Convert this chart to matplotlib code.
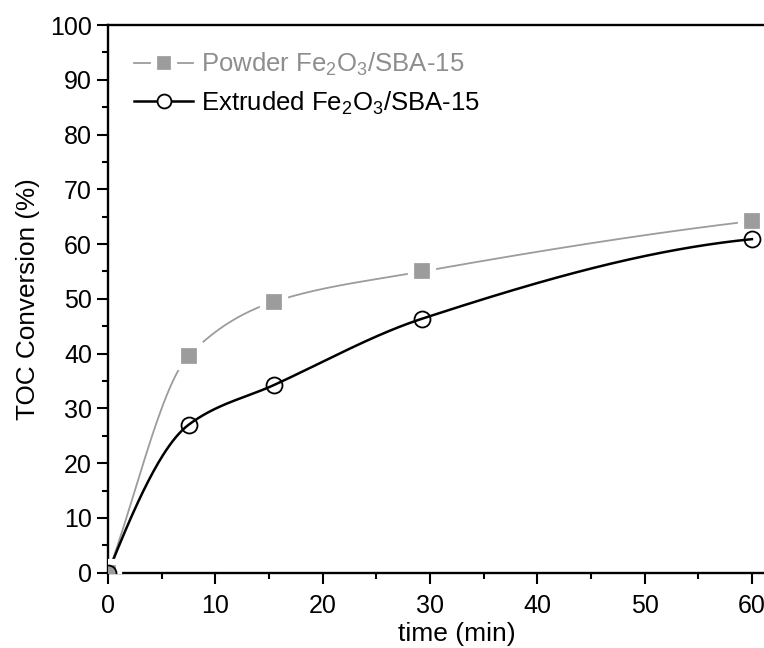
import matplotlib.pyplot as plt
import numpy as np

plt.rcParams['font.family'] = ['Liberation Sans', 'DejaVu Sans']
plt.rcParams['mathtext.default'] = 'regular'

# TOC conversion vs reaction time
time_min = [0, 7.5, 15.5, 29.3, 60]
powder = [0, 39.6, 49.5, 55.0, 64.2]
extruded = [0, 27.0, 34.3, 46.4, 60.9]

powder_label = 'Powder Fe$_2$O$_3$/SBA-15'
extruded_label = 'Extruded Fe$_2$O$_3$/SBA-15'


def smooth_curve(x, y, chord_start=False, n=400):
    """Monotone cubic (PCHIP) curve through the points, used for the connecting line."""
    x = np.asarray(x, float)
    y = np.asarray(y, float)
    h = np.diff(x)
    d = np.diff(y) / h
    m = np.zeros_like(y)
    for k in range(1, len(x) - 1):
        if d[k - 1] * d[k] > 0:
            w1 = 2 * h[k] + h[k - 1]
            w2 = h[k] + 2 * h[k - 1]
            m[k] = (w1 + w2) / (w1 / d[k - 1] + w2 / d[k])
    if chord_start:
        m[0] = d[0]
    else:
        m[0] = ((2 * h[0] + h[1]) * d[0] - h[0] * d[1]) / (h[0] + h[1])
        m[0] = min(m[0], 3 * d[0])
    m[-1] = ((2 * h[-1] + h[-2]) * d[-1] - h[-1] * d[-2]) / (h[-1] + h[-2])
    if np.sign(m[-1]) != np.sign(d[-1]):
        m[-1] = 0
    xs = np.linspace(x[0], x[-1], n)
    idx = np.clip(np.searchsorted(x, xs) - 1, 0, len(x) - 2)
    t = (xs - x[idx]) / h[idx]
    h00 = 2 * t**3 - 3 * t**2 + 1
    h10 = t**3 - 2 * t**2 + t
    h01 = -2 * t**3 + 3 * t**2
    h11 = t**3 - t**2
    ys = h00 * y[idx] + h10 * h[idx] * m[idx] + h01 * y[idx + 1] + h11 * h[idx] * m[idx + 1]
    return xs, ys


fig = plt.figure(figsize=(7.64, 6.48), dpi=100)
ax = fig.add_axes([0.1414, 0.1162, 0.913, 0.8452])

gray = '#9c9c9c'
xs, ys = smooth_curve(time_min, powder, chord_start=True)
ax.plot(xs, ys, color=gray, lw=1.3, zorder=2)
ax.plot(time_min, powder, ls='none', marker='s', ms=15.5, mfc=gray,
        mec='white', mew=4.5, zorder=3)

xs, ys = smooth_curve(time_min, extruded)
ax.plot(xs, ys, color='black', lw=1.8, zorder=2)
ax.plot(time_min, extruded, ls='none', marker='o', ms=11.5, mfc='none',
        mec='black', mew=1.3, zorder=4)

# legend handles mimic the line-marker-line style
h1, = ax.plot([], [], color=gray, lw=1.3, marker='s', ms=15, mfc=gray,
              mec='white', mew=4.5)
h2, = ax.plot([], [], color='black', lw=1.8, marker='o', ms=10, mfc='white',
              mec='black', mew=1.3)
leg = ax.legend([h1, h2], [powder_label, extruded_label], loc='upper left',
                bbox_to_anchor=(0.023, 0.972), frameon=False, fontsize=18.5,
                handlelength=2.3, handletextpad=0.3, labelspacing=0.45,
                borderaxespad=0)
leg.get_texts()[0].set_color('#8e8e8e')

ax.set_xlim(0, 65)
ax.set_ylim(0, 100)
ax.set_xticks(range(0, 61, 10))
ax.set_xticks(range(5, 61, 10), minor=True)
ax.set_yticks(range(0, 101, 10))
ax.set_yticks(range(5, 100, 10), minor=True)
ax.tick_params(which='major', direction='out', length=8, width=1.5,
               labelsize=18, pad=3.5)
ax.tick_params(which='minor', direction='out', length=4, width=1.5)
ax.tick_params(axis='x', pad=7)
for side in ['left', 'bottom', 'top']:
    ax.spines[side].set_linewidth(1.7)
ax.spines['right'].set_visible(False)

ax.set_xlabel('time (min)', fontsize=19, labelpad=3)
ax.set_ylabel('TOC Conversion (%)', fontsize=18.8, labelpad=7)

fig.savefig('out.png', dpi=100)
